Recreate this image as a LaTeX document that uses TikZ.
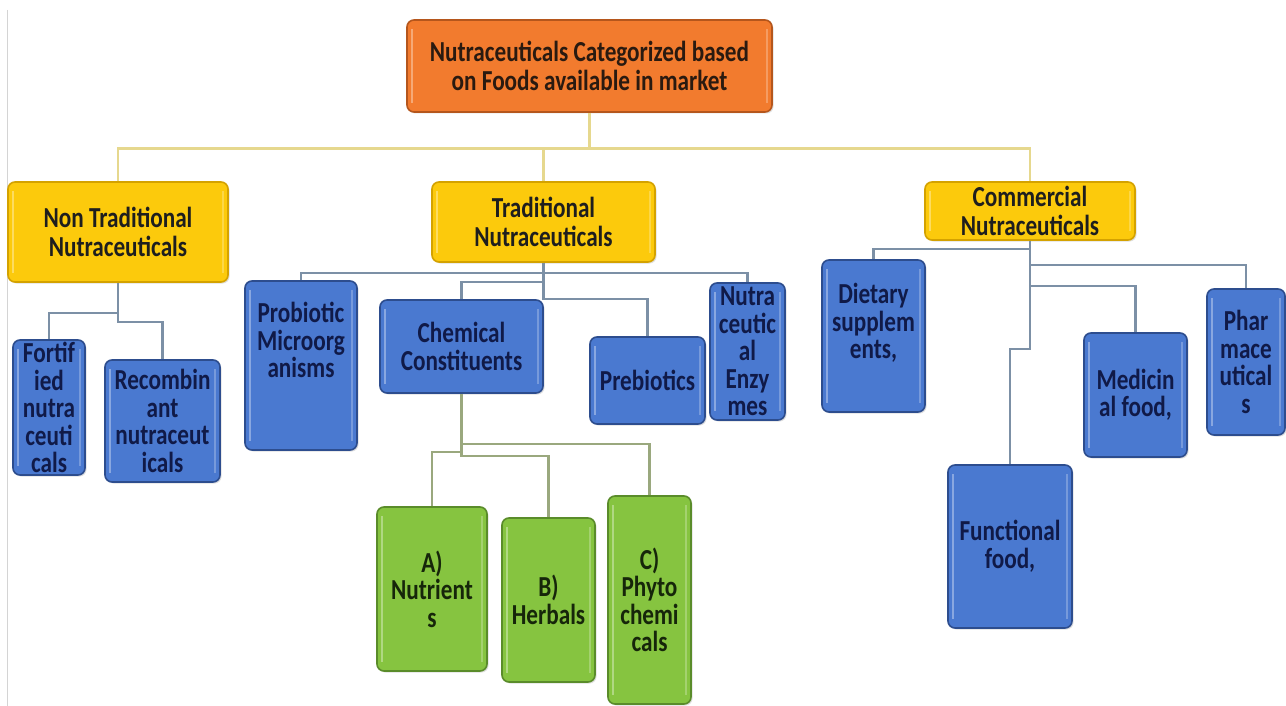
\documentclass[tikz,border=0pt]{standalone}
\usepackage{fontspec}
\setmainfont{Carlito}[FakeStretch=0.8]
\usetikzlibrary{shadows}
\definecolor{orF}{HTML}{F27B2E}
\definecolor{orD}{HTML}{B5561C}
\definecolor{orT}{HTML}{2A1A10}
\definecolor{yeF}{HTML}{FCCA0C}
\definecolor{yeD}{HTML}{D4A200}
\definecolor{yeT}{HTML}{1E1E1E}
\definecolor{blF}{HTML}{4A79D0}
\definecolor{blD}{HTML}{2D4D8E}
\definecolor{blT}{HTML}{101A48}
\definecolor{grF}{HTML}{86C440}
\definecolor{grD}{HTML}{5A8C2A}
\definecolor{grT}{HTML}{16260A}
\definecolor{yL}{HTML}{E6D88E}
\definecolor{bL}{HTML}{7C90A6}
\definecolor{gL}{HTML}{9AA87E}
\definecolor{frameL}{HTML}{D4D4D4}
\newcommand\txtfont{\bfseries\fontsize{29}{27.5}\selectfont}
\newcommand\hdfont{\bfseries\fontsize{29}{29.5}\selectfont}
\begin{document}
\begin{tikzpicture}[x=1pt,y=-1pt,
  basebox/.style={rounded corners=7pt, line width=1.6pt, inner sep=0pt, align=center,
    font=\txtfont,
    drop shadow={opacity=0.25,shadow xshift=1.5pt,shadow yshift=-1.5pt},
    path picture={
      \draw[white, opacity=0.35, line width=2.5pt]
        ([xshift=5pt,yshift=-9pt]path picture bounding box.north west) --
        ([xshift=5pt,yshift=9pt]path picture bounding box.south west);
      \draw[white, opacity=0.25, line width=2.5pt]
        ([xshift=-5pt,yshift=-9pt]path picture bounding box.north east) --
        ([xshift=-5pt,yshift=9pt]path picture bounding box.south east);}},
  orbox/.style={basebox, fill=orF, draw=orD, text=orT, font=\hdfont},
  yebox/.style={basebox, fill=yeF, draw=yeD, text=yeT, font=\hdfont},
  blbox/.style={basebox, fill=blF, draw=blD, text=blT},
  grbox/.style={basebox, fill=grF, draw=grD, text=grT},
  bltxt/.style={inner sep=0pt, align=center, text=blT, font=\txtfont},
  yline/.style={draw=yL, line width=2.6pt},
  bline/.style={draw=bL, line width=2.6pt},
  gline/.style={draw=gL, line width=2.6pt}]
\useasboundingbox (0,0) rectangle (1286,706);
\fill[white] (0,0) rectangle (1286,706);
\draw[frameL, line width=1pt] (7,10) -- (7,706);

% boxes
\node[orbox, minimum width=365pt, minimum height=92pt] (root) at (589.5,66) {Nutraceuticals Categorized based\\on Foods available in market};
\node[yebox, minimum width=220pt, minimum height=100pt] (nt) at (118,232) {Non Traditional\\Nutraceuticals};
\node[yebox, minimum width=223pt, minimum height=80pt] (trad) at (543.5,222) {Traditional\\Nutraceuticals};
\node[yebox, minimum width=210pt, minimum height=58pt] (com) at (1030,211) {Commercial\\Nutraceuticals};

\node[blbox, minimum width=72pt, minimum height=135pt] (fort) at (49,407.5) {Fortif\\ied\\nutra\\ceuti\\cals};
\node[blbox, minimum width=115pt, minimum height=122pt] (rec) at (162.5,421) {Recombin\\ant\\nutraceut\\icals};
\node[blbox, minimum width=112pt, minimum height=169pt] (prob) at (301,365.5) {};
\node[bltxt] (probT) at (301,340) {Probiotic\\Microorg\\anisms};
\node[blbox, minimum width=163pt, minimum height=93pt] (chem) at (461.5,346.5) {Chemical\\Constituents};
\node[blbox, minimum width=115pt, minimum height=87pt] (preb) at (647.5,380.5) {Prebiotics};
\node[blbox, minimum width=75pt, minimum height=137pt] (enz) at (747.5,351.5) {Nutra\\ceutic\\al\\Enzy\\mes};
\node[blbox, minimum width=103pt, minimum height=152pt] (diet) at (873.5,336) {};
\node[bltxt] (dietT) at (873.5,323) {Dietary\\supplem\\ents,};
\node[blbox, minimum width=78pt, minimum height=146pt] (pharm) at (1246,362) {Phar\\mace\\utical\\s};
\node[blbox, minimum width=103pt, minimum height=124pt] (med) at (1135.5,395) {Medicin\\al food,};
\node[blbox, minimum width=124pt, minimum height=163pt] (func) at (1010,546.5) {Functional\\food,};

\node[grbox, minimum width=110pt, minimum height=164pt] (nutr) at (432,589) {A)\\Nutrient\\s};
\node[grbox, minimum width=93pt, minimum height=164pt] (herb) at (548.5,600) {B)\\Herbals};
\node[grbox, minimum width=83pt, minimum height=208pt] (phyto) at (649.5,600) {C)\\Phyto\\chemi\\cals};

% connectors
\draw[yline] (root.south) -- ++(0,36) -| (nt.north);
\draw[yline] (root.south) -- ++(0,36) -| (trad.north);
\draw[yline] (root.south) -- ++(0,36) -| (com.north);

\draw[bline] (nt.south) -- ++(0,30) -| (fort.north);
\draw[bline] (nt.south) -- ++(0,39) -| (rec.north);

\draw[bline] (trad.south) -- ++(0,10) -| (prob.north);
\draw[bline] (trad.south) -- ++(0,10) -| (enz.north);
\draw[bline] (trad.south) -- ++(0,19) -| (chem.north);
\draw[bline] (trad.south) -- ++(0,36) -| (preb.north);

\draw[bline] (com.south) -- ++(0,8) -| (diet.north);
\draw[bline] (com.south) -- ++(0,24) -| (pharm.north);
\draw[bline] (com.south) -- ++(0,45) -| (med.north);
\draw[bline] (com.south) -- ++(0,108) -| (func.north);

\draw[gline] (chem.south) -- ++(0,50) -| (phyto.north);
\draw[gline] (chem.south) -- ++(0,58) -| (nutr.north);
\draw[gline] (chem.south) -- ++(0,62) -| (herb.north);
\end{tikzpicture}
\end{document}
